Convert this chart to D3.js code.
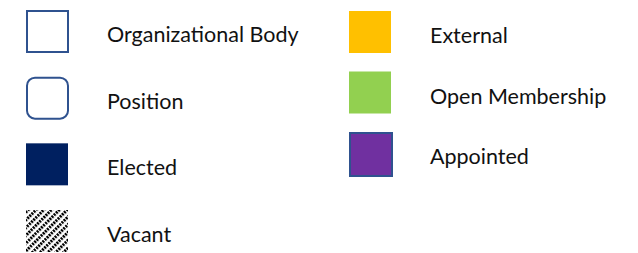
<!DOCTYPE html>
<html lang="en">
<head>
    <meta charset="UTF-8">
    <title>Legend</title>
    <script src="https://d3js.org/d3.v7.min.js"></script>
    <style>
        body { margin: 0; background: #fff; }
        text { font-family: Lato, "Open Sans", sans-serif; font-size: 21.5px; fill: #111; }
    </style>
</head>
<body>
<div id="chart"></div>
<script>
    // legend entries, left column then right column
    const labels = ["Organizational Body", "Position", "Elected", "Vacant",
                    "External", "Open Membership", "Appointed"];
    const kinds = ["outline", "rounded", "solid", "hatch", "solid", "solid", "bordered"];
    const fills = ["#ffffff", "#ffffff", "#002060", "url(#hatch)", "#ffc000", "#92d050", "#7030a0"];
    const columns = [0, 0, 0, 0, 1, 1, 1];
    const rows = [0, 1, 2, 3, 0, 1, 2];

    const width = 638, height = 253;
    const svg = d3.select("#chart").append("svg")
        .attr("width", width)
        .attr("height", height);

    // dark upward diagonal pattern
    const pat = svg.append("defs").append("pattern")
        .attr("id", "hatch")
        .attr("patternUnits", "userSpaceOnUse")
        .attr("width", 5.5)
        .attr("height", 6)
        .attr("patternTransform", "rotate(45)");
    pat.append("rect").attr("width", 5.5).attr("height", 6).attr("fill", "#fff");
    pat.append("line")
        .attr("x1", 1.5).attr("y1", 0).attr("x2", 1.5).attr("y2", 6)
        .attr("stroke", "#000").attr("stroke-width", 3)
        .attr("stroke-dasharray", "2,1");

    const x = d3.scaleOrdinal().domain([0, 1]).range([26, 349]);
    const yLeft = d3.scaleLinear().domain([0, 3]).range([10, 210]);
    const yRight = d3.scaleLinear().domain([0, 2]).range([11, 132]);

    const items = labels.map((l, i) => ({
        label: l, kind: kinds[i], fill: fills[i], col: columns[i], row: rows[i]
    }));

    const stroked = k => k === "outline" || k === "rounded" || k === "bordered";

    const g = svg.selectAll("g.item")
        .data(items)
        .enter().append("g")
        .attr("class", "item")
        .attr("transform", d => `translate(${x(d.col)},${d.col ? yRight(d.row) : yLeft(d.row)})`);

    g.append("rect")
        .attr("x", d => stroked(d.kind) ? 1 : 0)
        .attr("y", d => stroked(d.kind) ? 1 : 0)
        .attr("width", d => d.kind === "bordered" ? 42 : (stroked(d.kind) ? 41 : 42))
        .attr("height", d => d.kind === "bordered" ? 43 : (stroked(d.kind) ? 41 : 42))
        .attr("rx", d => d.kind === "rounded" ? 8 : 0)
        .attr("fill", d => d.fill)
        .attr("stroke", d => stroked(d.kind) ? "#2f528f" : "none")
        .attr("stroke-width", 2);

    g.append("text")
        .attr("x", 81)
        .attr("y", 32)
        .text(d => d.label);
</script>
</body>
</html>
